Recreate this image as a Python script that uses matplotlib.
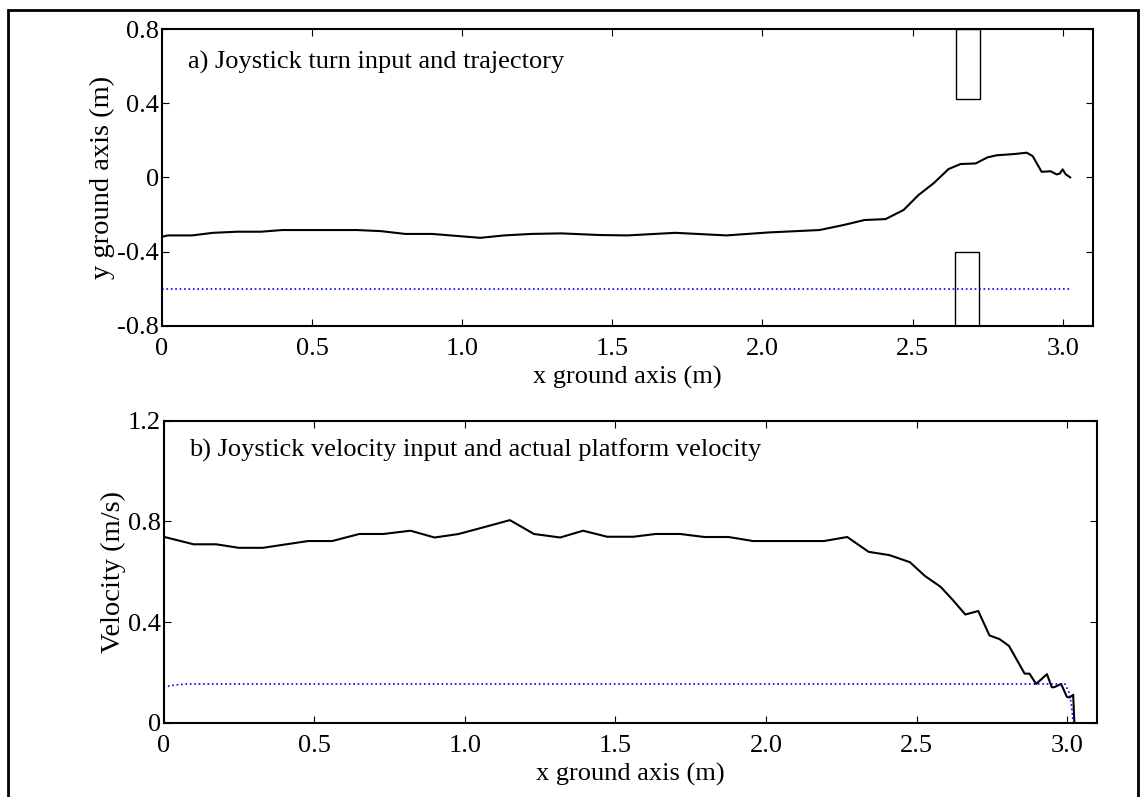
import numpy as np
import matplotlib.pyplot as plt
from matplotlib.patches import Rectangle

plt.rcParams['font.family'] = ['Liberation Serif', 'DejaVu Serif']
plt.rcParams['font.size'] = 19

# a) trajectory over the ground (m)
traj_x = [0.0, 0.02, 0.10, 0.17, 0.25, 0.33, 0.40, 0.65, 0.73, 0.81, 0.90, 1.06, 1.14,
          1.23, 1.33, 1.46, 1.55, 1.71, 1.88, 2.02, 2.19, 2.27, 2.34, 2.41, 2.47, 2.52,
          2.57, 2.62, 2.66, 2.71, 2.75, 2.78, 2.84, 2.88, 2.90, 2.93, 2.96, 2.98, 2.99,
          3.00, 3.01, 3.025]
traj_y = [-0.32, -0.313, -0.313, -0.299, -0.293, -0.293, -0.284, -0.284, -0.29, -0.305,
          -0.305, -0.326, -0.313, -0.305, -0.302, -0.311, -0.313, -0.299, -0.313, -0.297,
          -0.284, -0.257, -0.23, -0.225, -0.176, -0.095, -0.032, 0.045, 0.072, 0.075,
          0.108, 0.119, 0.126, 0.133, 0.115, 0.03, 0.033, 0.016, 0.02, 0.043, 0.017, 0.0]

# joystick turn input line
turn_x = [0.0, 3.025]
turn_y = [-0.6, -0.6]

# obstacles (x0, x1, y0, y1)
obstacles = [(2.645, 2.725, 0.42, 0.8), (2.64, 2.72, -0.8, -0.4)]

# b) platform velocity (m/s)
vel_x = [0.0, 0.10, 0.175, 0.25, 0.33, 0.48, 0.56, 0.65, 0.73, 0.82, 0.90, 0.98, 1.07,
         1.15, 1.23, 1.317, 1.393, 1.473, 1.56, 1.634, 1.715, 1.796, 1.876, 1.957, 2.193,
         2.27, 2.341, 2.41, 2.478, 2.528, 2.58, 2.621, 2.662, 2.705, 2.742, 2.776, 2.807,
         2.859, 2.875, 2.897, 2.933, 2.949, 2.957, 2.98, 2.999, 3.008, 3.02, 3.024]
vel_y = [0.739, 0.709, 0.709, 0.695, 0.695, 0.722, 0.722, 0.75, 0.75, 0.763, 0.736, 0.75,
         0.779, 0.805, 0.75, 0.736, 0.763, 0.739, 0.739, 0.75, 0.75, 0.738, 0.738, 0.722,
         0.722, 0.738, 0.679, 0.666, 0.638, 0.583, 0.54, 0.487, 0.43, 0.444, 0.347, 0.332,
         0.305, 0.195, 0.195, 0.154, 0.193, 0.141, 0.141, 0.154, 0.103, 0.10, 0.111, 0.0]

# joystick velocity input
cmd_x = [0.0, 0.04, 0.08, 2.993, 3.008, 3.015, 3.02]
cmd_y = [0.143, 0.150, 0.154, 0.154, 0.115, 0.064, 0.0]

fig = plt.figure(figsize=(11.45, 7.97), dpi=100)
ax1 = fig.add_axes([0.1415, 0.5913, 0.8128, 0.3723])
ax2 = fig.add_axes([0.1428, 0.0932, 0.8155, 0.3789])

ax1.plot(traj_x, traj_y, 'k-', lw=1.5)
ax1.plot(turn_x, turn_y, color='blue', ls=':', lw=1.2)
for x0, x1, y0, y1 in obstacles:
    ax1.add_patch(Rectangle((x0, y0), x1 - x0, y1 - y0, fill=False, ec='k', lw=1.0))
ax1.set_ylim(-0.8, 0.8)
ax1.set_yticks([-0.8, -0.4, 0, 0.4, 0.8])
ax1.set_yticklabels(['-0.8', '-0.4', '0', '0.4', '0.8'])
ax1.set_ylabel('y ground axis (m)', fontsize=20.5, labelpad=2)
ax1.text(0.088, 0.622, 'a) Joystick turn input and trajectory', va='center')

ax2.plot(vel_x, vel_y, 'k-', lw=1.5)
ax2.plot(cmd_x, cmd_y, color='blue', ls=':', lw=1.2)
ax2.set_ylim(0, 1.2)
ax2.set_yticks([0, 0.4, 0.8, 1.2])
ax2.set_yticklabels(['0', '0.4', '0.8', '1.2'])
ax2.set_ylabel('Velocity (m/s)', fontsize=20.5, labelpad=1)
ax2.text(0.085, 1.084, 'b) Joystick velocity input and actual platform velocity',
         va='center')

for ax in (ax1, ax2):
    ax.set_xlim(0, 3.1)
    ax.set_xticks([0, 0.5, 1.0, 1.5, 2.0, 2.5, 3.0])
    ax.set_xticklabels(['0', '0.5', '1.0', '1.5', '2.0', '2.5', '3.0'])
    ax.set_xlabel('x ground axis (m)', labelpad=4)
    ax.tick_params(direction='in', top=True, right=True, length=5, width=0.8)
    ax.tick_params(axis='x', pad=9)
    ax.tick_params(axis='y', pad=2)
    for s in ax.spines.values():
        s.set_linewidth(1.5)

# border around the whole figure
fig.patches.append(Rectangle((0.0067, -0.02), 0.9872, 1.0075, transform=fig.transFigure,
                             fill=False, ec='k', lw=2.0))

plt.savefig('out.png', dpi=100)
